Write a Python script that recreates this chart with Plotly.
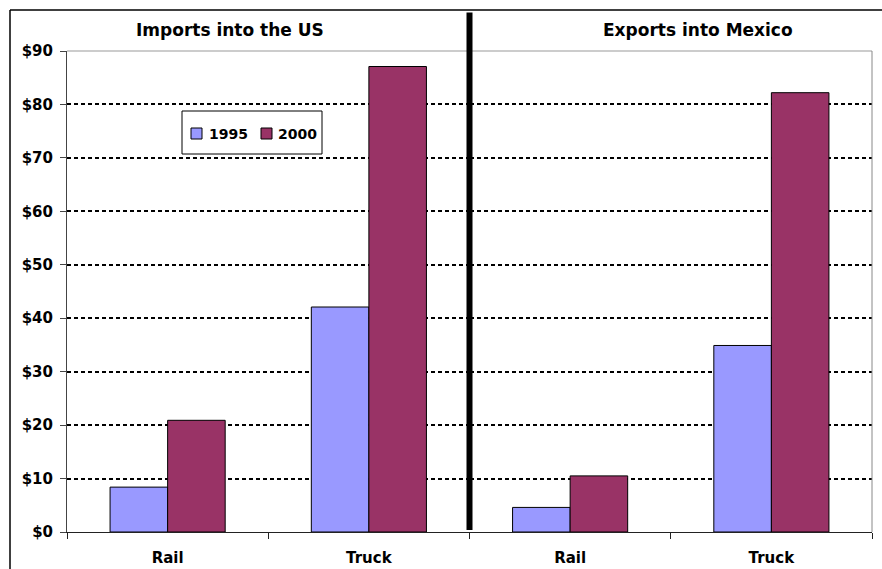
import plotly.graph_objects as go

# Trade values in billions of dollars
modes = ["Rail", "Truck"]
imports_1995 = [8.4, 42.1]
imports_2000 = [20.9, 87.1]
exports_1995 = [4.6, 34.9]
exports_2000 = [10.5, 82.2]
panel_titles = ["Imports into the US", "Exports into Mexico"]
years = ["1995", "2000"]
y_ticks = [0, 10, 20, 30, 40, 50, 60, 70, 80, 90]
y_labels = ["$" + str(v) for v in y_ticks]

C1995 = "#9999FF"
C2000 = "#993366"
FONT = "DejaVu Sans"

# Plot-area geometry in pixels (used to place legend box and frame)
W, H = 882, 569
ML, MR, MT, MB = 67, 10, 51, 37
PW, PH = W - ML - MR, H - MT - MB


def px(x):
    return (x - ML) / PW


def py(y):
    return (H - MB - y) / PH


fig = go.Figure()
bar_line = dict(color="black", width=1)

fig.add_trace(go.Bar(x=modes, y=imports_1995, name=years[0], marker=dict(color=C1995, line=bar_line),
                     xaxis="x", yaxis="y"))
fig.add_trace(go.Bar(x=modes, y=imports_2000, name=years[1], marker=dict(color=C2000, line=bar_line),
                     xaxis="x", yaxis="y"))
fig.add_trace(go.Bar(x=modes, y=exports_1995, name=years[0], marker=dict(color=C1995, line=bar_line),
                     xaxis="x2", yaxis="y"))
fig.add_trace(go.Bar(x=modes, y=exports_2000, name=years[1], marker=dict(color=C2000, line=bar_line),
                     xaxis="x2", yaxis="y"))

xcommon = dict(
    type="category", tickson="boundaries", ticks="outside", ticklen=6, tickwidth=1,
    tickcolor="#222", showline=True, linecolor="#222", linewidth=1, showgrid=False,
    tickfont=dict(family=FONT, size=15, color="black", weight="bold"),
    ticklabelstandoff=12, anchor="y", fixedrange=True, automargin=False,
)

fig.update_layout(
    width=W, height=H,
    margin=dict(l=ML, r=MR, t=MT, b=MB, autoexpand=False),
    paper_bgcolor="white", plot_bgcolor="white",
    barmode="group", bargap=0.428, bargroupgap=0,
    showlegend=False,
    xaxis=dict(domain=[0, 0.5], **xcommon),
    xaxis2=dict(domain=[0.5, 1], **xcommon),
    yaxis=dict(
        range=[0, 90], tickvals=y_ticks, ticktext=y_labels,
        ticks="outside", ticklen=6, tickcolor="#444", showline=True, linecolor="#444",
        linewidth=1, showgrid=True, gridcolor="black", gridwidth=2, griddash="4px,3px",
        zeroline=False, tickfont=dict(family=FONT, size=15, color="black", weight="bold"),
        ticklabelstandoff=4, fixedrange=True, automargin=False,
    ),
)

# Panel titles
for name, xc in zip(panel_titles, [230, 698]):
    fig.add_annotation(text=name, x=px(xc), y=py(30), xref="paper", yref="paper",
                       showarrow=False, xanchor="center", yanchor="middle",
                       font=dict(family=FONT, size=17, color="black", weight="bold"))

# Legend box with year swatches
fig.add_shape(type="rect", xref="paper", yref="paper", x0=px(182), x1=px(322), y0=py(154), y1=py(111),
              line=dict(color="black", width=1), fillcolor="white")
for yr, col, sx, tx in zip(years, [C1995, C2000], [191, 261], [207, 276]):
    fig.add_shape(type="rect", xref="paper", yref="paper", x0=px(sx), x1=px(sx + 11),
                  y0=py(139), y1=py(128), line=dict(color="black", width=1), fillcolor=col)
    fig.add_annotation(text=yr, x=px(tx), y=py(133.5), xref="paper", yref="paper",
                       showarrow=False, xanchor="left", yanchor="middle",
                       font=dict(family=FONT, size=14, color="black", weight="bold"))

# Plot-area border on the right and top
fig.add_shape(type="line", xref="paper", yref="paper", x0=1, x1=1, y0=0, y1=1,
              line=dict(color="#888", width=1))
fig.add_shape(type="line", xref="paper", yref="paper", x0=0, x1=1, y0=1, y1=1,
              line=dict(color="#999", width=1), layer="below")

# Heavy divider between the two panels
fig.add_shape(type="line", xref="paper", yref="paper", x0=0.5, x1=0.5, y0=py(530), y1=py(12.5),
              line=dict(color="black", width=6))

# Outer frame (left and top edges)
fig.add_shape(type="line", xref="paper", yref="paper", x0=px(10), x1=px(10), y0=py(H + 5), y1=py(10),
              line=dict(color="black", width=1.5))
fig.add_shape(type="line", xref="paper", yref="paper", x0=px(10), x1=px(W + 5), y0=py(10), y1=py(10),
              line=dict(color="black", width=1.5))

fig.write_html("out.html")
